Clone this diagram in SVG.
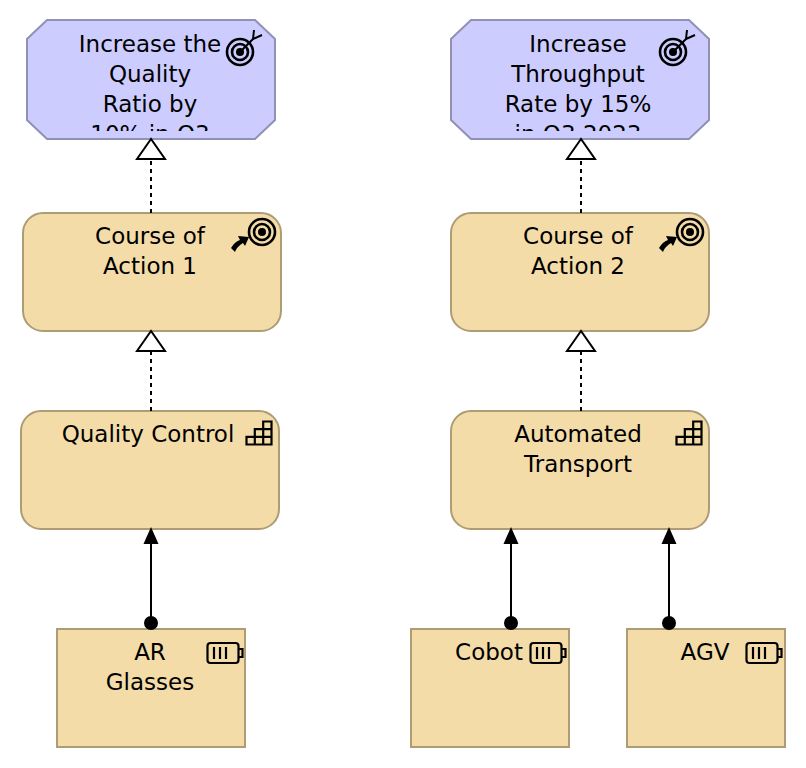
<svg xmlns="http://www.w3.org/2000/svg" xmlns:xlink="http://www.w3.org/1999/xlink" width="806" height="768" viewBox="0 0 806 768">
<style>
.goal{fill:#ccccff;stroke:#9191b5;stroke-width:2}
.tan{fill:#f4dca8;stroke:#ae9c75;stroke-width:2}
text{font-family:"DejaVu Sans","Liberation Sans",sans-serif;font-size:23px;fill:#000;text-anchor:middle}
.ic{fill:none;stroke:#000;stroke-width:2.2}
.tg{fill:none;stroke:#000;stroke-width:2.6}
.sh{fill:none;stroke:#000;stroke-width:2}
.dash{fill:none;stroke:#000;stroke-width:2;stroke-dasharray:4 4}
.solid{fill:none;stroke:#000;stroke-width:2}
.tri{fill:#fff;stroke:#000;stroke-width:2}
</style>
<defs>
<clipPath id="clipG"><rect x="0" y="20" width="806" height="111"/></clipPath>
<g id="target"><circle cx="0" cy="0" r="13" class="tg"/><circle cx="0" cy="0" r="8" class="tg"/><circle cx="0" cy="0" r="4"/></g>
<g id="goalIcon"><use xlink:href="#target"/><path d="M0 0L13-13M13-13L14-22M13-13L22-17" class="sh"/></g>
<g id="courseIcon"><use xlink:href="#target"/><path d="M-31 16C-28 11-25 9-22 8L-24 4L-13 5L-17 14L-19 11C-22 13-25 15-27 20Z"/></g>
<path id="capIcon" d="M-12.500 11.500H12.500V-11.500H4.200V-3.800H-4.200V3.800H-12.500ZM-12.500 3.800H12.500M-4.200 3.800V11.500M4.200-3.800V11.500M4.200-3.800H12.500" class="ic"/>
<g id="resIcon"><rect x="-16.500" y="-10" width="31" height="20" rx="3" class="ic"/><path d="M14.500-4H18.500V4H14.500M-10-6V6M-4-6V6M2-6V6" class="ic"/></g>
</defs>
<g id="goal1"><path class="goal" d="M47 20H255L275 39V120L255 139H47L27 120V39Z"/>
<g clip-path="url(#clipG)"><text x="150" y="52">Increase the</text><text x="150" y="82">Quality</text><text x="150" y="112">Ratio by</text><text x="150" y="142">10% in Q3</text></g>
<use xlink:href="#goalIcon" x="240" y="52"/></g>
<g id="goal2"><path class="goal" d="M471 20H689L709 39V120L689 139H471L451 120V39Z"/>
<g clip-path="url(#clipG)"><text x="578" y="52">Increase</text><text x="578" y="82">Throughput</text><text x="578" y="112">Rate by 15%</text><text x="578" y="142">in Q3 2023</text></g>
<use xlink:href="#goalIcon" x="673" y="52"/></g>
<g id="course1"><rect class="tan" x="23" y="213" width="258" height="118" rx="20"/><text x="150" y="244">Course of</text><text x="150" y="274">Action 1</text>
<use xlink:href="#courseIcon" x="262" y="232"/></g>
<g id="course2"><rect class="tan" x="451" y="213" width="258" height="118" rx="20"/><text x="578" y="244">Course of</text><text x="578" y="274">Action 2</text>
<use xlink:href="#courseIcon" x="690" y="232"/></g>
<g id="quality"><rect class="tan" x="21" y="411" width="258" height="118" rx="20"/><text x="148" y="442">Quality Control</text>
<use xlink:href="#capIcon" x="259" y="433"/></g>
<g id="transport"><rect class="tan" x="451" y="411" width="258" height="118" rx="20"/><text x="578" y="442">Automated</text><text x="578" y="472">Transport</text>
<use xlink:href="#capIcon" x="689" y="433"/></g>
<g id="ar"><rect class="tan" x="57" y="629" width="188" height="118"/><text x="150" y="660">AR</text><text x="150" y="690">Glasses</text>
<use xlink:href="#resIcon" x="224" y="653"/></g>
<g id="cobot"><rect class="tan" x="411" y="629" width="158" height="118"/><text x="489" y="660">Cobot</text>
<use xlink:href="#resIcon" x="547" y="653"/></g>
<g id="agv"><rect class="tan" x="627" y="629" width="158" height="118"/><text x="705" y="660">AGV</text>
<use xlink:href="#resIcon" x="763" y="653"/></g>
<g id="connectors">
<path class="dash" d="M151 213V159"/><path class="tri" d="M151 139L137 159H165Z"/>
<path class="dash" d="M581 213V159"/><path class="tri" d="M581 139L567 159H595Z"/>
<path class="dash" d="M151 411V351"/><path class="tri" d="M151 331L137 351H165Z"/>
<path class="dash" d="M581 411V351"/><path class="tri" d="M581 331L567 351H595Z"/>
<path class="solid" d="M151 623V540"/><path d="M151 527L143.500 544H158.500Z"/><circle cx="151" cy="623" r="7"/>
<path class="solid" d="M511 623V540"/><path d="M511 527L503.500 544H518.500Z"/><circle cx="511" cy="623" r="7"/>
<path class="solid" d="M669 623V540"/><path d="M669 527L661.500 544H676.500Z"/><circle cx="669" cy="623" r="7"/>
</g>
</svg>
